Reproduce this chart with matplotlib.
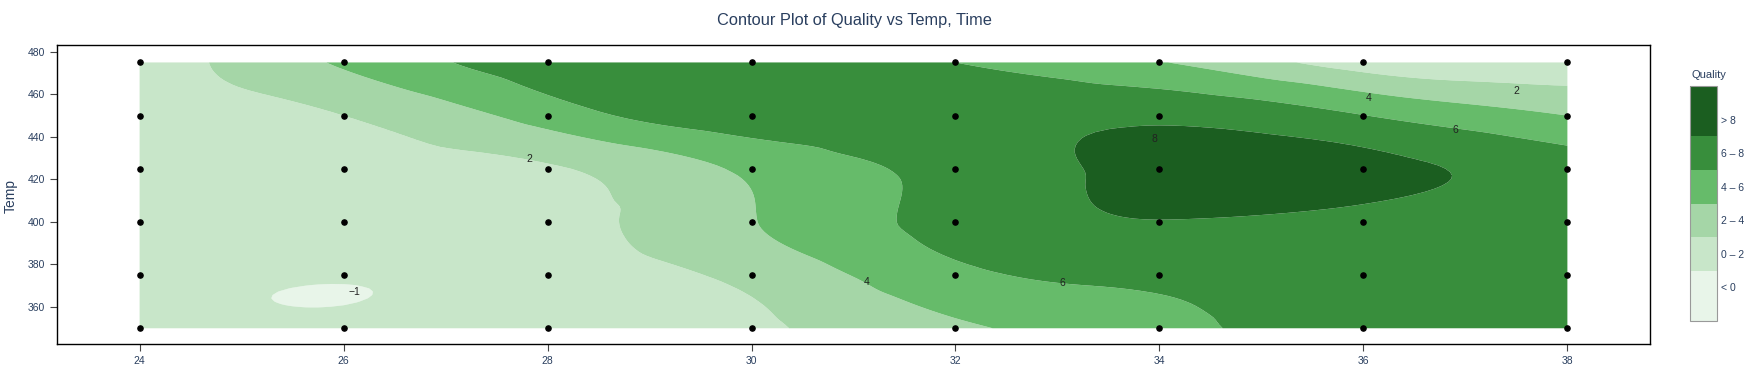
import numpy as np
import matplotlib
matplotlib.use('Agg')
import matplotlib.pyplot as plt
import matplotlib.tri as mtri
from matplotlib.colors import ListedColormap, BoundaryNorm
from matplotlib.cm import ScalarMappable

plt.rcParams['font.family'] = ['Liberation Sans', 'DejaVu Sans']

# grid of the designed experiment
time_vals = [24, 26, 28, 30, 32, 34, 36, 38]
temp_vals = [350, 375, 400, 425, 450, 475]

# quality, one row per temp (bottom to top)
quality = [
    [0.7, 0.4, 0.8, 1.6, 3.7, 5.3, 7.2, 7.0],    # 350
    [0.6, 0.15, 0.9, 2.55, 5.5, 6.5, 7.0, 7.1],  # 375
    [1.2, 1.7, 1.4, 3.9, 6.7, 7.95, 7.55, 7.0],  # 400
    [1.0, 1.5, 1.8, 4.4, 6.7, 8.6, 8.5, 7.0],    # 425
    [0.9, 2.0, 4.9, 7.3, 7.4, 7.6, 6.05, 4.0],   # 450
    [0.8, 4.3, 7.2, 7.6, 6.0, 4.1, 0.9, 0.6],    # 475
]

levels = [-10, 0, 2, 4, 6, 8, 20]
fill_colors = ['#e8f5e9', '#c8e6c9', '#a5d6a7', '#66bb6a', '#388e3c', '#1b5e20']
bar_labels = ['< 0', '0 – 2', '2 – 4', '4 – 6', '6 – 8', '> 8']

# contour labels as they sit in the reference (text, time, temp)
contour_labels = [
    ('2', 27.82, 429.7), ('\u22121', 26.11, 366.9), ('4', 31.13, 371.8),
    ('6', 33.05, 371.3), ('8', 33.95, 438.9), ('4', 36.05, 458.3),
    ('6', 36.9, 443.4), ('2', 37.5, 461.7),
]

TXT = '#2a3f5f'
W, H = 1755, 372


def build_triangulation(xs, ys):
    X, Y = np.meshgrid(xs, ys)
    nx = len(xs)
    tris = []
    for j in range(len(ys) - 1):
        for i in range(nx - 1):
            a = j * nx + i
            b, c, d = a + 1, a + nx, a + nx + 1
            tris.append([a, b, d])
            tris.append([a, d, c])
    return mtri.Triangulation(X.ravel(), Y.ravel(), np.array(tris)), X, Y


def main():
    fig = plt.figure(figsize=(W / 100, H / 100), dpi=100)
    ax = fig.add_axes([57 / W, 1 - 344 / H, (1650 - 57) / W, (344 - 45) / H])

    tri, X, Y = build_triangulation(time_vals, temp_vals)
    z = np.array(quality).ravel()
    interp = mtri.CubicTriInterpolator(tri, z, kind='min_E')
    refiner = mtri.UniformTriRefiner(tri)
    tri_f, z_f = refiner.refine_field(z, triinterpolator=interp, subdiv=4)
    ax.tricontourf(tri_f, z_f, levels=levels, colors=fill_colors, antialiased=True)

    ax.scatter(X.ravel(), Y.ravel(), s=14, color='black', zorder=3)

    for txt, x, y in contour_labels:
        ax.text(x, y, txt, fontsize=7.5, color='#222', ha='center', va='center', zorder=4)

    ax.set_xlim(23.19, 38.81)
    ax.set_ylim(342.6, 483.2)
    ax.set_xticks(time_vals)
    ax.set_yticks([360, 380, 400, 420, 440, 460, 480])
    ax.tick_params(labelsize=7.5, labelcolor=TXT, length=5, width=0.8, color='#444', direction='out')
    for sp in ax.spines.values():
        sp.set_color('black')
        sp.set_linewidth(1.0)

    fig.text(854 / W, 1 - 20 / H, 'Contour Plot of Quality vs Temp, Time', fontsize=11.8,
             color=TXT, ha='center', va='center')
    fig.text(11 / W, 1 - 196 / H, 'Temp', fontsize=10, color=TXT, rotation=90,
             ha='center', va='center')

    # discrete colorbar, end blocks a bit taller as in plotly
    cax = fig.add_axes([1690 / W, 1 - 321 / H, 27 / W, 235 / H])
    bounds = [-3, 0, 2, 4, 6, 8, 11]
    sm = ScalarMappable(norm=BoundaryNorm(bounds, len(fill_colors)), cmap=ListedColormap(fill_colors))
    cb = fig.colorbar(sm, cax=cax, spacing='proportional')
    cb.set_ticks([-1, 1, 3, 5, 7, 9])
    cb.set_ticklabels(bar_labels)
    cb.ax.minorticks_off()
    cb.ax.tick_params(length=0, labelsize=7.5, labelcolor=TXT, pad=3)
    cb.outline.set_edgecolor('#999999')
    cb.outline.set_linewidth(0.8)
    fig.text(1691 / W, 1 - 75 / H, 'Quality', fontsize=8, color=TXT, ha='left', va='center')

    fig.savefig('out.png', dpi=100)


if __name__ == '__main__':
    main()
